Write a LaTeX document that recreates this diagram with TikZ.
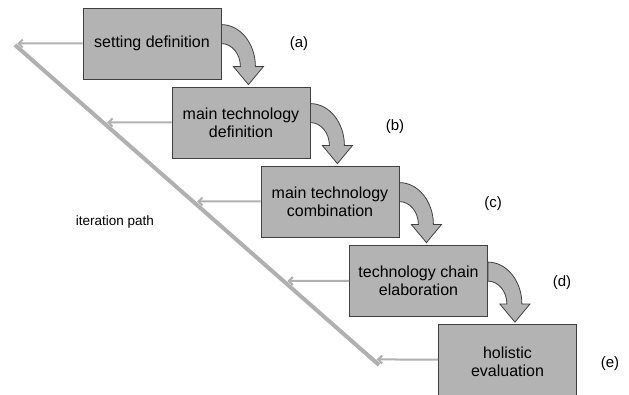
\documentclass[tikz,border=0pt]{standalone}
\usepackage{fontspec}
\setmainfont{Liberation Sans}
\usetikzlibrary{arrows.meta,calc}
\definecolor{stepfill}{HTML}{B3B3B3}
\definecolor{stepline}{HTML}{404040}
\definecolor{pathgray}{HTML}{B0B0B0}
\tikzset{
  stepbox/.style={draw=stepline,fill=stepfill,line width=0.8pt,minimum width=138pt,minimum height=71pt,inner sep=0pt,align=center,font=\fontsize{16}{18}\selectfont},
  bendarr/.style={draw=stepline,fill=stepfill,line width=0.8pt},
  iterline/.style={draw=pathgray,line width=4pt},
  iterarr/.style={-{Straight Barb[length=4pt,width=8pt]},draw=pathgray,line width=2pt,shorten >=4pt},
  steplabel/.style={font=\fontsize{15}{18}\selectfont}
}
% bent block arrow from the right side of a box down to the next one
\newcommand{\bendarrow}[1]{%
  \draw[bendarr] ([yshift=-17pt]#1.north east)
    arc[start angle=90,end angle=0,x radius=34pt,y radius=42pt]
    -- ++(8pt,0) -- ++(-15pt,-18pt) -- ++(-15pt,18pt) -- ++(7pt,0)
    arc[start angle=0,end angle=90,x radius=19pt,y radius=23pt] -- cycle;}

\begin{document}
\begin{tikzpicture}[x=1pt,y=1pt]
  \useasboundingbox (0,0) rectangle (629,-395);
  \node[stepbox] (a) at (152,-43.5) {setting definition};
  \node[stepbox] (b) at (241,-122.5) {main technology\\definition};
  \node[stepbox] (c) at (330,-201.5) {main technology\\combination};
  \node[stepbox] (d) at (418.5,-281) {technology chain\\elaboration};
  \node[stepbox,minimum height=75pt] (e) at (507.5,-361.5) {holistic\\evaluation};
  \bendarrow{a} \bendarrow{b} \bendarrow{c} \bendarrow{d}
  \node[steplabel] (la) at (299,-44) {(a)};
  \node[steplabel] (lb) at (395,-127) {(b)};
  \node[steplabel] (lc) at (493,-204) {(c)};
  \node[steplabel] (ld) at (562,-283) {(d)};
  \node[steplabel] (le) at (610,-364) {(e)};
  % iteration path
  \coordinate (ps) at (15,-45);
  \coordinate (pe) at (379,-365);
  \draw[iterline] (ps) -- (pe);
  \node[font=\fontsize{13.5}{16}\selectfont] (it) at (115,-222) {iteration path};
  \draw[iterarr] (a.west) -- (intersection of a.west--a.east and ps--pe);
  \draw[iterarr] (b.west) -- (intersection of b.west--b.east and ps--pe);
  \draw[iterarr] (c.west) -- (intersection of c.west--c.east and ps--pe);
  \draw[iterarr] (d.west) -- (intersection of d.west--d.east and ps--pe);
  \draw[iterarr] ([yshift=2pt]e.west) -- (intersection of {[yshift=2pt]e.west}--{[yshift=2pt]e.east} and ps--pe);
\end{tikzpicture}
\end{document}
